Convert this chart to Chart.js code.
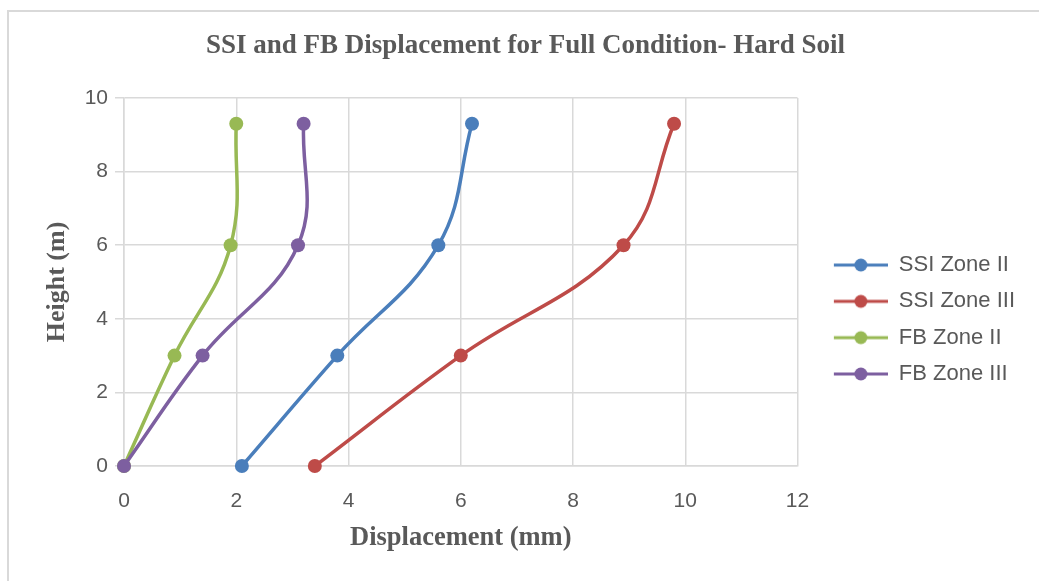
<!DOCTYPE html>
<html>
<head>
<meta charset="utf-8">
<title>SSI and FB Displacement for Full Condition- Hard Soil</title>
<script src="https://cdn.jsdelivr.net/npm/chart.js@4.4.1/dist/chart.umd.min.js"></script>
<style>
  html, body { margin: 0; padding: 0; background: #fff; }
  #wrap { position: relative; width: 1039px; height: 581px; overflow: hidden; }
  #frame { position: absolute; left: 7px; top: 10px; width: 1100px; height: 700px;
           border-top: 2px solid #d9d9d9; border-left: 2px solid #d9d9d9; }
  #myChart { position: absolute; left: 0; top: 0; }
</style>
</head>
<body>
<div id="wrap">
  <div id="frame"></div>
  <canvas id="myChart" width="1039" height="581"></canvas>
</div>
<script>
// heights of the storeys (m)
const heights = [0, 3, 6, 9.3];
// displacement (mm)
const ssiZone2 = [2.1, 3.8, 5.6, 6.2];
const ssiZone3 = [3.4, 6.0, 8.9, 9.8];
const fbZone2 = [0, 0.9, 1.9, 2.0];
const fbZone3 = [0, 1.4, 3.1, 3.2];

const seriesNames = ['SSI Zone II', 'SSI Zone III', 'FB Zone II', 'FB Zone III'];
const seriesValues = [ssiZone2, ssiZone3, fbZone2, fbZone3];
const seriesColors = ['#4a7ebb', '#be4b48', '#98b954', '#7d5fa0'];

const xTicks = [0, 2, 4, 6, 8, 10, 12];
const yTicks = [0, 2, 4, 6, 8, 10];

const textColor = '#595959';
const gridColor = '#d9d9d9';

// legend symbol: short line with a marker on it
function legendSymbol(color) {
  const c = document.createElement('canvas');
  c.width = 76;
  c.height = 16;
  const g = c.getContext('2d');
  g.strokeStyle = color;
  g.lineWidth = 3;
  g.beginPath();
  g.moveTo(22, 8);
  g.lineTo(76, 8);
  g.stroke();
  g.fillStyle = color;
  g.beginPath();
  g.arc(49, 8, 6.5, 0, Math.PI * 2);
  g.fill();
  return c;
}

const datasets = seriesNames.map((name, i) => ({
  label: name,
  data: seriesValues[i].map((x, j) => ({ x: x, y: heights[j] })),
  borderColor: seriesColors[i],
  backgroundColor: seriesColors[i],
  pointBackgroundColor: seriesColors[i],
  pointBorderWidth: 0,
  pointRadius: 7,
  pointHoverRadius: 7,
  borderWidth: 3.5,
  showLine: true,
  tension: 0.4,
  clip: false,
  order: seriesNames.length - i
}));

const ctx = document.getElementById('myChart');

const chart = new Chart(ctx, {
  type: 'scatter',
  data: { datasets: datasets },
  options: {
    responsive: false,
    animation: false,
    layout: { padding: { left: 26, top: 15, right: 14, bottom: 10 } },
    plugins: {
      title: {
        display: true,
        text: 'SSI and FB Displacement for Full Condition- Hard Soil',
        color: textColor,
        font: { family: 'Liberation Serif', size: 27, weight: 'bold' },
        padding: { top: 14.8, bottom: 35.8 }
      },
      legend: {
        position: 'right',
        title: { display: true, text: ' ', font: { size: 10 }, padding: { top: 41, bottom: 0 } },
        labels: {
          color: textColor,
          font: { family: 'Liberation Sans', size: 22 },
          usePointStyle: true,
          pointStyleWidth: 76,
          padding: 14.3,
          sort: (a, b) => a.datasetIndex - b.datasetIndex,
          generateLabels: (chart) => {
            const items = Chart.defaults.plugins.legend.labels.generateLabels(chart);
            items.forEach((it) => { it.pointStyle = legendSymbol(seriesColors[it.datasetIndex]); });
            return items;
          }
        }
      },
      tooltip: { enabled: false }
    },
    scales: {
      x: {
        type: 'linear',
        min: 0,
        max: 12,
        afterBuildTicks: (s) => { s.ticks = xTicks.map((v) => ({ value: v })); },
        afterFit: (s) => { s.height = 105; },
        grid: { color: gridColor, lineWidth: 1.5, drawTicks: false },
        border: { color: gridColor, width: 1.5 },
        ticks: {
          color: textColor,
          font: { family: 'Liberation Sans', size: 21 },
          padding: 23
        },
        title: {
          display: true,
          text: 'Displacement (mm)',
          color: textColor,
          font: { family: 'Liberation Serif', size: 26.5, weight: 'bold' },
          padding: { top: 0, bottom: 17 }
        }
      },
      y: {
        type: 'linear',
        min: 0,
        max: 10,
        afterBuildTicks: (s) => { s.ticks = yTicks.map((v) => ({ value: v })); },
        afterFit: (s) => { s.width = 98; },
        grid: { color: gridColor, lineWidth: 1.5, tickLength: 9, tickColor: gridColor },
        border: { color: gridColor, width: 1.5 },
        ticks: {
          color: textColor,
          font: { family: 'Liberation Sans', size: 21 },
          padding: 7
        },
        title: {
          display: true,
          text: 'Height (m)',
          color: textColor,
          font: { family: 'Liberation Serif', size: 26, weight: 'bold' },
          padding: { top: 15.4, bottom: 0 }
        }
      }
    }
  }
});

// nudge the right padding so the plot ends where the reference's does
const wantRight = 798;
const diff = chart.chartArea.right - wantRight;
if (Math.abs(diff) > 0.5) {
  chart.options.layout.padding.right += diff;
  chart.update();
}
</script>
</body>
</html>
